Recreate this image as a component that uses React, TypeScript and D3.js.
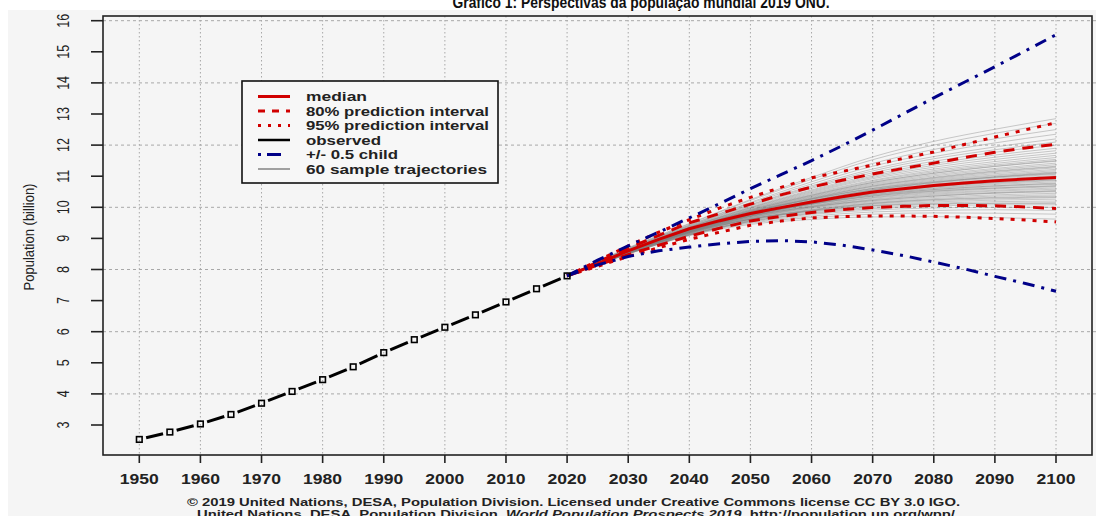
import React from "react";
import * as d3 from "d3";

const observedYears = [1950, 1955, 1960, 1965, 1970, 1975, 1980, 1985, 1990, 1995, 2000, 2005, 2010, 2015, 2020];
const observedPop = [2.536, 2.773, 3.034, 3.339, 3.7, 4.079, 4.458, 4.871, 5.327, 5.744, 6.143, 6.542, 6.957, 7.38, 7.795];

const projYears = [2020, 2025, 2030, 2035, 2040, 2045, 2050, 2055, 2060, 2065, 2070, 2075, 2080, 2085, 2090, 2095, 2100];
const median = [7.795, 8.19, 8.6, 8.97, 9.31, 9.57, 9.8, 9.99, 10.17, 10.34, 10.49, 10.6, 10.7, 10.78, 10.85, 10.91, 10.96];
const lower80 = [7.795, 8.14, 8.48, 8.78, 9.07, 9.33, 9.56, 9.71, 9.83, 9.93, 9.99, 10.03, 10.06, 10.06, 10.05, 10.01, 9.96];
const upper80 = [7.795, 8.24, 8.68, 9.1, 9.5, 9.8, 10.1, 10.4, 10.65, 10.87, 11.07, 11.25, 11.42, 11.6, 11.77, 11.91, 12.03];
const lower95 = [7.795, 8.1, 8.42, 8.7, 8.97, 9.2, 9.42, 9.56, 9.66, 9.7, 9.72, 9.72, 9.71, 9.68, 9.64, 9.59, 9.53];
const upper95 = [7.795, 8.28, 8.76, 9.2, 9.6, 9.98, 10.32, 10.64, 10.95, 11.15, 11.36, 11.57, 11.78, 12.02, 12.26, 12.49, 12.72];
const lowerChild = [7.795, 8.15, 8.42, 8.6, 8.72, 8.83, 8.9, 8.93, 8.89, 8.78, 8.63, 8.45, 8.24, 8.02, 7.78, 7.55, 7.3];
const upperChild = [7.795, 8.3, 8.76, 9.2, 9.66, 10.12, 10.6, 11.05, 11.5, 11.98, 12.48, 13.0, 13.52, 14.02, 14.52, 15.03, 15.55];

const sampleYears = [2020, 2030, 2040, 2050, 2060, 2070, 2080, 2090, 2100];
const sampleTrajectories = [
  [7.8, 8.5, 9.09, 9.45, 9.61, 9.69, 9.7, 9.67, 9.62],
  [7.8, 8.51, 9.11, 9.49, 9.67, 9.78, 9.82, 9.81, 9.78],
  [7.8, 8.52, 9.12, 9.52, 9.72, 9.85, 9.9, 9.92, 9.9],
  [7.8, 8.53, 9.13, 9.54, 9.77, 9.91, 9.98, 10.0, 10.0],
  [7.8, 8.54, 9.14, 9.56, 9.8, 9.96, 10.04, 10.08, 10.08],
  [7.8, 8.5, 9.1, 9.55, 9.82, 10.0, 10.09, 10.13, 10.15],
  [7.8, 8.56, 9.16, 9.59, 9.85, 10.04, 10.13, 10.18, 10.2],
  [7.8, 8.53, 9.17, 9.61, 9.88, 10.07, 10.17, 10.23, 10.26],
  [7.8, 8.55, 9.17, 9.62, 9.9, 10.1, 10.21, 10.27, 10.31],
  [7.8, 8.57, 9.18, 9.63, 9.92, 10.13, 10.25, 10.32, 10.36],
  [7.8, 8.52, 9.15, 9.62, 9.93, 10.15, 10.28, 10.36, 10.4],
  [7.8, 8.56, 9.19, 9.65, 9.96, 10.18, 10.32, 10.4, 10.45],
  [7.8, 8.58, 9.2, 9.66, 9.98, 10.21, 10.36, 10.45, 10.5],
  [7.8, 8.54, 9.2, 9.67, 10.0, 10.24, 10.39, 10.48, 10.54],
  [7.8, 8.55, 9.2, 9.68, 10.01, 10.26, 10.42, 10.52, 10.58],
  [7.8, 8.57, 9.21, 9.7, 10.03, 10.29, 10.45, 10.55, 10.62],
  [7.8, 8.53, 9.21, 9.7, 10.04, 10.31, 10.48, 10.59, 10.66],
  [7.8, 8.56, 9.22, 9.72, 10.06, 10.33, 10.51, 10.62, 10.7],
  [7.8, 8.55, 9.22, 9.72, 10.08, 10.36, 10.54, 10.66, 10.74],
  [7.8, 8.58, 9.23, 9.74, 10.1, 10.38, 10.57, 10.69, 10.78],
  [7.8, 8.54, 9.23, 9.75, 10.11, 10.41, 10.6, 10.73, 10.82],
  [7.8, 8.56, 9.24, 9.76, 10.13, 10.43, 10.62, 10.76, 10.86],
  [7.8, 8.57, 9.24, 9.76, 10.14, 10.45, 10.65, 10.8, 10.9],
  [7.8, 8.55, 9.25, 9.78, 10.16, 10.48, 10.68, 10.83, 10.94],
  [7.8, 8.56, 9.25, 9.78, 10.18, 10.5, 10.72, 10.87, 10.98],
  [7.8, 8.58, 9.26, 9.8, 10.2, 10.53, 10.75, 10.9, 11.02],
  [7.8, 8.55, 9.26, 9.8, 10.21, 10.55, 10.78, 10.94, 11.06],
  [7.8, 8.57, 9.27, 9.82, 10.23, 10.57, 10.8, 10.97, 11.1],
  [7.8, 8.6, 9.28, 9.83, 10.25, 10.6, 10.84, 11.01, 11.14],
  [7.8, 8.56, 9.28, 9.84, 10.26, 10.62, 10.87, 11.04, 11.18],
  [7.8, 8.58, 9.28, 9.85, 10.28, 10.65, 10.9, 11.08, 11.22],
  [7.8, 8.59, 9.29, 9.86, 10.3, 10.68, 10.93, 11.12, 11.27],
  [7.8, 8.57, 9.29, 9.87, 10.32, 10.71, 10.97, 11.17, 11.32],
  [7.8, 8.6, 9.3, 9.88, 10.34, 10.74, 11.01, 11.21, 11.37],
  [7.8, 8.58, 9.31, 9.9, 10.36, 10.77, 11.05, 11.25, 11.42],
  [7.8, 8.61, 9.31, 9.91, 10.39, 10.8, 11.09, 11.31, 11.48],
  [7.8, 8.59, 9.32, 9.93, 10.41, 10.84, 11.14, 11.36, 11.54],
  [7.8, 8.62, 9.33, 9.94, 10.44, 10.87, 11.18, 11.41, 11.6],
  [7.8, 8.6, 9.34, 9.96, 10.47, 10.92, 11.23, 11.47, 11.67],
  [7.8, 8.63, 9.35, 9.98, 10.5, 10.96, 11.29, 11.54, 11.74],
  [7.8, 8.61, 9.35, 9.99, 10.53, 11.0, 11.35, 11.61, 11.82],
  [7.8, 8.64, 9.36, 10.01, 10.56, 11.05, 11.41, 11.68, 11.9],
  [7.8, 8.62, 9.37, 10.04, 10.61, 11.11, 11.48, 11.77, 12.0],
  [7.8, 8.65, 9.39, 10.07, 10.65, 11.17, 11.56, 11.85, 12.1],
  [7.8, 8.63, 9.4, 10.09, 10.69, 11.23, 11.63, 11.94, 12.2],
  [7.8, 8.66, 9.42, 10.13, 10.75, 11.32, 11.74, 12.07, 12.35],
  [7.8, 8.67, 9.43, 10.16, 10.82, 11.41, 11.86, 12.2, 12.5],
  [7.8, 8.68, 9.46, 10.22, 10.9, 11.53, 12.0, 12.38, 12.7],
  [7.8, 8.7, 9.48, 10.25, 10.96, 11.62, 12.12, 12.51, 12.85],
  [7.8, 8.6, 9.27, 9.72, 10.02, 10.22, 10.36, 10.46, 10.52],
  [7.8, 8.52, 9.18, 9.72, 10.12, 10.45, 10.66, 10.79, 10.88],
  [7.8, 8.62, 9.32, 9.86, 10.27, 10.6, 10.82, 10.97, 11.08],
  [7.8, 8.5, 9.12, 9.58, 9.9, 10.12, 10.24, 10.3, 10.33],
  [7.8, 8.59, 9.26, 9.75, 10.1, 10.36, 10.52, 10.62, 10.68],
  [7.8, 8.54, 9.24, 9.82, 10.28, 10.68, 10.95, 11.15, 11.3],
  [7.8, 8.58, 9.2, 9.62, 9.88, 10.05, 10.11, 10.13, 10.12],
  [7.8, 8.52, 9.22, 9.78, 10.2, 10.56, 10.8, 10.98, 11.12],
  [7.8, 8.6, 9.27, 9.77, 10.12, 10.4, 10.57, 10.69, 10.76],
  [7.8, 8.53, 9.22, 9.76, 10.15, 10.48, 10.7, 10.85, 10.96],
  [7.8, 8.57, 9.3, 9.9, 10.38, 10.8, 11.1, 11.32, 11.5],
];

const xTicks = [1950, 1960, 1970, 1980, 1990, 2000, 2010, 2020, 2030, 2040, 2050, 2060, 2070, 2080, 2090, 2100];
const yTicks = [3, 4, 5, 6, 7, 8, 9, 10, 11, 12, 13, 14, 15, 16];
const yGrid = [4, 6, 8, 10, 12, 14, 16];
const legendLabels = ["median", "80% prediction interval", "95% prediction interval", "observed", "+/- 0.5 child", "60 sample trajectories"];
const legendWidths = [61, 183, 183, 75, 92, 181];

const titleText = "Gráfico 1: Perspectivas da população mundial 2019 ONU.";
const yLabel = "Population (billion)";
const footer1 = "© 2019 United Nations, DESA, Population Division. Licensed under Creative Commons license CC BY 3.0 IGO.";

const W = 1096;
const H = 516;
const PL = 103, PR = 1092, PT = 16, PB = 455;
const RED = "#d10000";
const BLUE = "#000088";
const FONT = "'Liberation Sans', Arial, sans-serif";

export default function App() {
  const x = d3.scaleLinear().domain([1950, 2100]).range([139.3, 1056]);
  const y = d3.scaleLinear().domain([3, 16]).range([425, 20.7]);

  const lineP = d3.line<number>().x((_, i) => x(projYears[i])).y((d) => y(d));
  const lineS = d3.line<number>().x((_, i) => x(sampleYears[i])).y((d) => y(d)).curve(d3.curveMonotoneX);

  const obsPts = observedYears.map((yr, i) => [x(yr), y(observedPop[i])]);
  const segs: any[] = [];
  for (let i = 0; i < obsPts.length - 1; i++) {
    const [x1, y1] = obsPts[i];
    const [x2, y2] = obsPts[i + 1];
    const dx = x2 - x1, dy = y2 - y1;
    const len = Math.sqrt(dx * dx + dy * dy);
    const g = 7;
    segs.push([x1 + (dx * g) / len, y1 + (dy * g) / len, x2 - (dx * g) / len, y2 - (dy * g) / len]);
  }

  const legendY = (i: number) => 96.5 + i * 14.5;

  return (
    <svg width={W} height={H} style={{ position: "absolute", left: 0, top: 0, background: "#fff" }} fontFamily={FONT}>
      <rect x={8} y={10} width={W - 8} height={H - 10} fill="#f5f5f5" />
      <text x={641} y={7.5} textAnchor="middle" fontSize={17} fontWeight="bold" textLength={377} lengthAdjust="spacingAndGlyphs" fill="#111">
        {titleText}
      </text>

      {/* grid */}
      {xTicks.map((t) => (
        <line key={"gx" + t} x1={x(t)} x2={x(t)} y1={PT} y2={PB} stroke="#a8a8a8" strokeWidth={1} strokeDasharray="1.5 2.5" />
      ))}
      {yGrid.map((t) => (
        <line key={"gy" + t} x1={PL} x2={W} y1={y(t)} y2={y(t)} stroke="#a8a8a8" strokeWidth={1} strokeDasharray="3 3" />
      ))}

      {/* sample trajectories */}
      <g fill="none" stroke="#808080" strokeWidth={0.8} strokeOpacity={0.5}>
        {sampleTrajectories.map((tr, i) => (
          <path key={"s" + i} d={lineS(tr) || ""} />
        ))}
      </g>

      {/* red lines */}
      <g fill="none" stroke={RED} strokeWidth={3}>
        <path d={lineP(lower95) || ""} strokeDasharray="4 7" />
        <path d={lineP(upper95) || ""} strokeDasharray="4 7" />
        <path d={lineP(lower80) || ""} strokeDasharray="11 8" />
        <path d={lineP(upper80) || ""} strokeDasharray="11 8" />
        <path d={lineP(median) || ""} />
      </g>

      {/* blue lines */}
      <g fill="none" stroke={BLUE} strokeWidth={3}>
        <path d={lineP(upperChild) || ""} strokeDasharray="12 7 3 7" />
        <path d={lineP(lowerChild) || ""} strokeDasharray="12 7 3 7" />
      </g>

      {/* observed */}
      <g>
        {segs.map((s, i) => (
          <line key={"o" + i} x1={s[0]} y1={s[1]} x2={s[2]} y2={s[3]} stroke="#000" strokeWidth={3} />
        ))}
        {obsPts.map((p, i) => (
          <rect key={"p" + i} x={p[0] - 2.8} y={p[1] - 2.8} width={5.6} height={5.6} fill="none" stroke="#000" strokeWidth={1.6} />
        ))}
      </g>

      {/* legend */}
      <rect x={242} y={81} width={256} height={102} fill="#f7f7f7" stroke="#111" strokeWidth={1.6} />
      <g fill="none" strokeWidth={3}>
        <line x1={258} x2={290} y1={legendY(0)} y2={legendY(0)} stroke={RED} />
        <line x1={258} x2={290} y1={legendY(1)} y2={legendY(1)} stroke={RED} strokeDasharray="7 7" />
        <line x1={258} x2={290} y1={legendY(2)} y2={legendY(2)} stroke={RED} strokeDasharray="3 7" />
        <line x1={258} x2={290} y1={legendY(3)} y2={legendY(3)} stroke="#000" strokeWidth={2.5} />
        <line x1={258} x2={290} y1={legendY(4)} y2={legendY(4)} stroke={BLUE} strokeDasharray="3 6 14 20" />
        <line x1={258} x2={290} y1={legendY(5)} y2={legendY(5)} stroke="#a0a0a0" strokeWidth={2} />
      </g>
      {legendLabels.map((l, i) => (
        <text key={"l" + i} x={306} y={legendY(i) + 4.6} fontSize={13} fontWeight="bold" fill="#222" textLength={legendWidths[i]} lengthAdjust="spacingAndGlyphs">
          {l}
        </text>
      ))}

      {/* plot box */}
      <rect x={PL} y={PT} width={PR - PL} height={PB - PT} fill="none" stroke="#222" strokeWidth={1.6} />

      {/* y axis */}
      {yTicks.map((t) => (
        <g key={"yt" + t}>
          <line x1={91} x2={PL} y1={y(t)} y2={y(t)} stroke="#222" strokeWidth={1.6} />
          <text
            transform={`translate(63.5,${y(t)}) scale(1.25,1) rotate(-90)`}
            textAnchor="middle"
            dominantBaseline="central"
            fontSize={12.5}
            fill="#222"
          >
            {t}
          </text>
        </g>
      ))}
      <text transform="translate(29,237) scale(1.15,1) rotate(-90)" textAnchor="middle" dominantBaseline="central" fontSize={13} fill="#222">
        {yLabel}
      </text>

      {/* x axis */}
      {xTicks.map((t) => (
        <g key={"xt" + t}>
          <line x1={x(t)} x2={x(t)} y1={PB} y2={463} stroke="#222" strokeWidth={1.6} />
          <text x={x(t)} y={484} textAnchor="middle" fontSize={15.5} fontWeight="bold" fill="#222" textLength={39} lengthAdjust="spacingAndGlyphs">
            {t}
          </text>
        </g>
      ))}

      {/* footer */}
      <text x={187} y={506} fontSize={11.5} fontWeight="bold" fill="#222" textLength={773} lengthAdjust="spacingAndGlyphs">
        {footer1}
      </text>
      <text x={197} y={517.5} fontSize={11.5} fontWeight="bold" fill="#222" textLength={758} lengthAdjust="spacingAndGlyphs">
        United Nations, DESA, Population Division. <tspan fontStyle="italic">World Population Prospects 2019</tspan>. http://population.un.org/wpp/
      </text>
    </svg>
  );
}
